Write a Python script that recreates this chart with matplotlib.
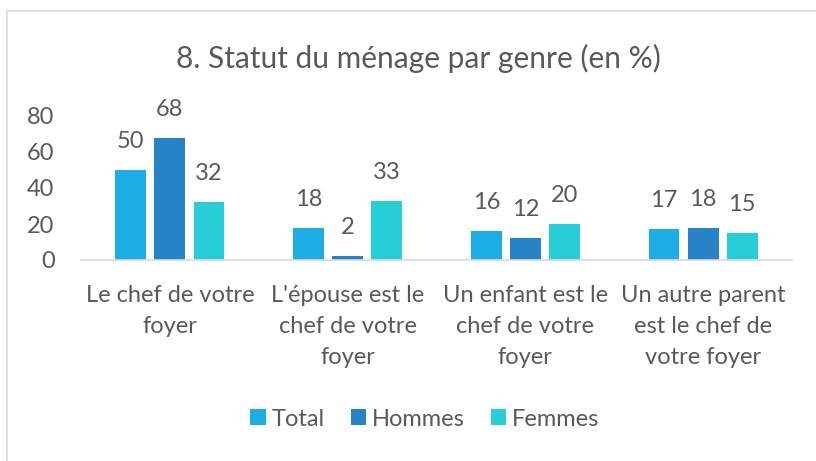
import matplotlib.pyplot as plt
import numpy as np
from matplotlib.patches import Rectangle

categories = ["Le chef de votre\nfoyer",
              "L'épouse est le\nchef de votre\nfoyer",
              "Un enfant est le\nchef de votre\nfoyer",
              "Un autre parent\nest le chef de\nvotre foyer"]
total = [50, 18, 16, 17]
hommes = [68, 2, 12, 18]
femmes = [32, 33, 20, 15]
series = ["Total", "Hommes", "Femmes"]
colors = ["#1CADE4", "#2683C6", "#27CED7"]

plt.rcParams['font.family'] = ['Lato', 'DejaVu Sans']
grey = "#595959"
fs = 17

fig = plt.figure(figsize=(8.16, 4.61), dpi=100)
W, H = 816, 461
# chart frame
fig.patches.append(Rectangle((7 / W, -0.05), 1.0, 1 - 11 / H + 0.05,
                             transform=fig.transFigure, fill=False,
                             edgecolor="#D9D9D9", linewidth=1.2))

ax = fig.add_axes([81 / W, 1 - 260 / H, (792 - 81) / W, 144 / H])
x = np.arange(len(categories))
bw = 0.174
step = 0.22
for i, (vals, name, c) in enumerate(zip([total, hommes, femmes], series, colors)):
    bars = ax.bar(x + (i - 1) * step, vals, bw, color=c, label=name)
    for b, v in zip(bars, vals):
        ax.annotate(str(v), (b.get_x() + b.get_width() / 2, v),
                    xytext=(0, 13), textcoords="offset points",
                    ha="center", va="bottom", fontsize=fs, color=grey,
                    annotation_clip=False)

ax.set_ylim(0, 80)
ax.set_xlim(-0.5, 3.5)
ax.set_yticks([0, 20, 40, 60, 80])
ax.set_xticks(x)
ax.set_xticklabels(categories, fontsize=fs, color=grey, linespacing=1.6)
ax.tick_params(axis="y", labelsize=fs, colors=grey, length=0, pad=19)
ax.tick_params(axis="x", length=0, pad=18)
for s in ["top", "right", "left"]:
    ax.spines[s].set_visible(False)
ax.spines["bottom"].set_color("#D9D9D9")
ax.spines["bottom"].set_linewidth(1.2)

fig.text(418 / W, 1 - 58 / H, "8. Statut du ménage par genre (en %)",
         ha="center", va="center", fontsize=21.5, color=grey)

fig.legend(loc="center", bbox_to_anchor=(425 / W, 1 - 419 / H), ncol=3,
           frameon=False, fontsize=fs, labelcolor=grey,
           handlelength=0.65, handleheight=0.65, handletextpad=0.25,
           columnspacing=1.1)

fig.savefig("out.png", dpi=100)
